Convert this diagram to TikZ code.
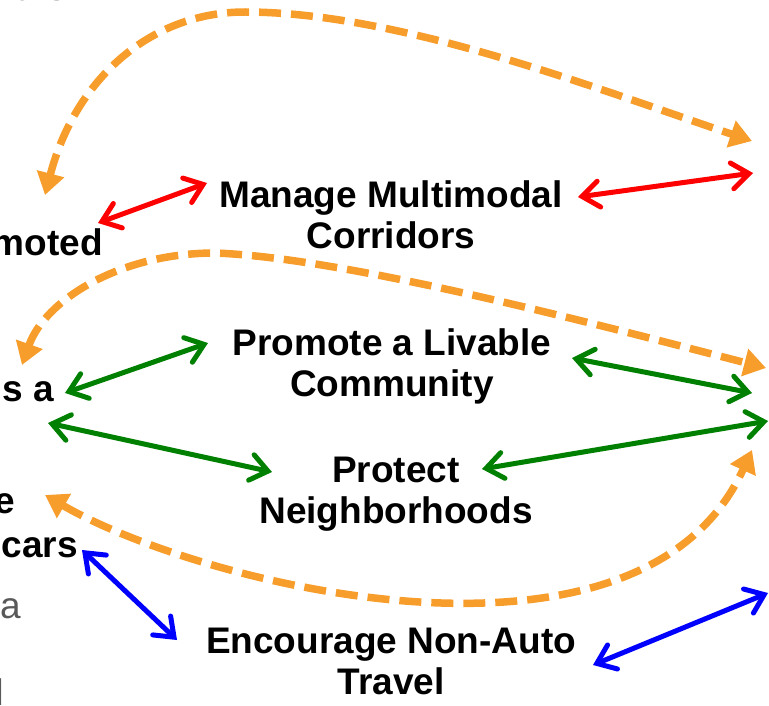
\documentclass[tikz,border=0pt]{standalone}
\usepackage{fontspec}
\setmainfont{Liberation Sans}
\usetikzlibrary{arrows.meta}
\definecolor{orng}{RGB}{247,157,43}
\definecolor{redarr}{RGB}{255,0,0}
\definecolor{greenarr}{RGB}{0,128,0}
\definecolor{bluearr}{RGB}{0,0,255}
\definecolor{graytxt}{RGB}{89,89,89}
\begin{document}
\begin{tikzpicture}[x=1pt,y=-1pt,
  lbl/.style={font=\bfseries\fontsize{37}{41}\selectfont, align=center, inner sep=0pt, anchor=base},
  frag/.style={font=\bfseries\fontsize{37}{41}\selectfont, inner sep=0pt, anchor=base east},
  gfrag/.style={font=\fontsize{37}{41}\selectfont, text=graytxt, inner sep=0pt, anchor=base east},
  link/.style={line width=5pt, line cap=round,
    {Straight Barb[length=17pt,width=26pt,line cap=round]}-{Straight Barb[length=17pt,width=26pt,line cap=round]}},
  loop/.style={draw=orng, line width=7.5pt, dash pattern=on 22pt off 10pt,
    {Triangle[length=22pt,width=27pt,fill=orng]}-{Triangle[length=22pt,width=27pt,fill=orng]}},
]
\useasboundingbox (0,0) rectangle (769,706);
\clip (0,0) rectangle (769,706);

% main labels (anchor = baseline of the last line)
\node[lbl] (mmc) at (391,248) {Manage Multimodal\\Corridors};
\node[lbl] (plc) at (392,396) {Promote a Livable\\Community};
\node[lbl] (pn) at (396,523) {Protect\\Neighborhoods};
\node[lbl] (enat) at (391,694) {Encourage Non-Auto\\Travel};

% cut-off fragments at the left edge
\node[frag] (f1) at (103,255) {moted};
\node[frag] (f2) at (54,401) {s a};
\node[frag] (f3) at (15,513) {e};
\node[frag] (f4) at (78,557) {cars};
\node[gfrag] (g1) at (67,1) {o the};
\node[gfrag] (g2) at (21,618) {a};
\node[gfrag] (g3) at (4,705) {d};

% connector end points
\coordinate (r1a) at (98,223);  \coordinate (r1b) at (207,183);
\coordinate (r2a) at (578,197); \coordinate (r2b) at (753,173);
\coordinate (g1a) at (65,393);  \coordinate (g1b) at (208,343);
\coordinate (g2a) at (572,358); \coordinate (g2b) at (752,393);
\coordinate (g3a) at (48,423);  \coordinate (g3b) at (272,472);
\coordinate (g4a) at (482,469); \coordinate (g4b) at (768,421);
\coordinate (b1a) at (82,550);  \coordinate (b1b) at (177,640);
\coordinate (b2a) at (593,665); \coordinate (b2b) at (768,593);
\coordinate (o1a) at (45,195);  \coordinate (o1b) at (752,141);
\coordinate (o2a) at (22,365);  \coordinate (o2b) at (766,368);
\coordinate (o3a) at (45,495);  \coordinate (o3b) at (752,450);

% orange dashed loops
\draw[loop] (o1a) .. controls (75,80) and (150,12) .. (245,12)
               .. controls (400,12) and (600,90) .. (o1b);
\draw[loop] (o2a) .. controls (45,300) and (120,253) .. (215,253)
               .. controls (350,258) and (610,328) .. (o2b);
\draw[loop] (o3a) .. controls (200,585) and (640,695) .. (o3b);

% solid double arrows
\draw[link, redarr] (r1a) -- (r1b);
\draw[link, redarr] (r2a) -- (r2b);
\draw[link, greenarr] (g1a) -- (g1b);
\draw[link, greenarr] (g2a) -- (g2b);
\draw[link, greenarr] (g3a) -- (g3b);
\draw[link, greenarr] (g4a) -- (g4b);
\draw[link, bluearr] (b1a) -- (b1b);
\draw[link, bluearr] (b2a) -- (b2b);
\end{tikzpicture}
\end{document}
